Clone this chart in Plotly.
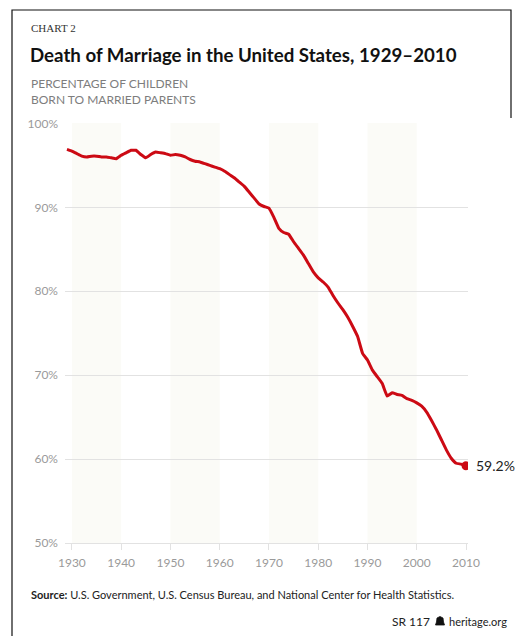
import plotly.graph_objects as go

# Percentage of children born to married parents, 1929-2010
years = list(range(1929, 2011))
married_pct = [
    96.9, 96.7, 96.4, 96.1, 96.0, 96.1, 96.1, 96.0, 96.0, 95.9,  # 1929-1938
    95.8, 96.2, 96.5, 96.8, 96.8, 96.3, 95.9, 96.3, 96.6, 96.5,  # 1939-1948
    96.4, 96.2, 96.3, 96.2, 96.0, 95.7, 95.5, 95.4, 95.2, 95.0,  # 1949-1958
    94.8, 94.6, 94.3, 93.9, 93.5, 93.0, 92.5, 91.8, 91.1, 90.4,  # 1959-1968
    90.1, 89.9, 88.8, 87.5, 87.0, 86.8, 85.9, 85.1, 84.3, 83.3,  # 1969-1978
    82.3, 81.6, 81.1, 80.5, 79.5, 78.6, 77.8, 76.9, 75.8, 74.6,  # 1979-1988
    72.6, 71.8, 70.6, 69.8, 69.0, 67.5, 67.9, 67.7, 67.6, 67.2,  # 1989-1998
    67.0, 66.7, 66.3, 65.6, 64.6, 63.5, 62.3, 61.1, 60.1, 59.5,  # 1999-2008
    59.4, 59.2,                                                  # 2009-2010
]

decade_ticks = [1930, 1940, 1950, 1960, 1970, 1980, 1990, 2000, 2010]
pct_ticks = [50, 60, 70, 80, 90, 100]
pct_labels = ["50%", "60%", "70%", "80%", "90%", "100%"]
shaded_decades = [(1930, 1940), (1950, 1960), (1970, 1980), (1990, 2000)]

W, H = 527, 636
L, R, T, B = 65, 59, 123, 93
PW, PH = W - L - R, H - T - B


def px(x):
    return (x - L) / PW


def py(y):
    return (H - B - y) / PH


RED = "#cc0a14"
GREY_TXT = "#9a9a9a"
GRID = "#e2e2e2"

fig = go.Figure()

fig.add_trace(go.Scatter(
    x=years, y=married_pct, mode="lines",
    line=dict(color=RED, width=3, shape="spline", smoothing=0.3),
    hoverinfo="skip", showlegend=False,
))
fig.add_trace(go.Scatter(
    x=[years[-1]], y=[married_pct[-1]], mode="markers",
    marker=dict(color=RED, size=9),
    hoverinfo="skip", showlegend=False,
))

shapes = []
for a, b in shaded_decades:
    shapes.append(dict(type="rect", xref="x", yref="paper", x0=a, x1=b, y0=0, y1=1,
                       fillcolor="#fbfbf7", line=dict(width=0), layer="below"))

# outer frame
shapes.append(dict(type="path", xref="paper", yref="paper",
                   path=f"M {px(12)} {py(636)} L {px(12)} {py(10)} L {px(511)} {py(10)} L {px(511)} {py(118)}",
                   line=dict(color="#111", width=1.2)))

# small bell logo next to the web address
bx, by = 440, 621
bell = (f"M {px(bx-4.5)} {py(by+4)} L {px(bx+4.5)} {py(by+4)} L {px(bx+3.5)} {py(by+1)} "
        f"L {px(bx+3)} {py(by-3)} L {px(bx)} {py(by-4.5)} L {px(bx-3)} {py(by-3)} "
        f"L {px(bx-3.5)} {py(by+1)} Z")
shapes.append(dict(type="path", xref="paper", yref="paper", path=bell,
                   fillcolor="#111", line=dict(color="#111", width=0.8)))

annotations = [
    dict(text="CHART 2", x=px(29), y=py(28), xanchor="left", yanchor="middle",
         font=dict(family="Liberation Serif", size=11, color="#333")),
    dict(text="<b>Death of Marriage in the United States, 1929–2010</b>",
         x=px(28), y=py(55), xanchor="left", yanchor="middle",
         font=dict(family="Lato", size=18.7, color="#111")),
    dict(text="PERCENTAGE OF CHILDREN<br>BORN TO MARRIED PARENTS",
         x=px(29), y=py(91), xanchor="left", yanchor="middle", align="left",
         font=dict(family="Lato", size=12, color="#7d7d7d")),
    dict(text=f"{married_pct[-1]:.1f}%", x=years[-1], y=married_pct[-1], xref="x", yref="y",
         xanchor="left", yanchor="middle", xshift=8,
         font=dict(family="Lato", size=14, color="#222")),
    dict(text="<b>Source:</b> U.S. Government, U.S. Census Bureau, and National Center for Health Statistics.",
         x=px(29), y=py(594), xanchor="left", yanchor="middle",
         font=dict(family="Lato", size=11, color="#222")),
    dict(text="SR 117", x=px(432), y=py(621), xanchor="right", yanchor="middle",
         font=dict(family="Lato", size=12, color="#222")),
    dict(text="heritage.org", x=px(509), y=py(621), xanchor="right", yanchor="middle",
         font=dict(family="Lato", size=11, color="#222")),
]
for a in annotations:
    a.setdefault("xref", "paper")
    a.setdefault("yref", "paper")
    a["showarrow"] = False

fig.update_layout(
    width=W, height=H,
    margin=dict(l=L, r=R, t=T, b=B),
    paper_bgcolor="white", plot_bgcolor="white",
    shapes=shapes, annotations=annotations,
    xaxis=dict(range=[1928.6, 2010.4], tickvals=decade_ticks, ticks="outside",
               ticklen=6, tickcolor=GRID, showgrid=False, zeroline=False,
               showline=True, linecolor=GRID, linewidth=1, ticklabelstandoff=3,
               tickfont=dict(family="Lato", size=12, color=GREY_TXT)),
    yaxis=dict(range=[50, 100.05], tickvals=pct_ticks, ticktext=pct_labels,
               showgrid=True, gridcolor=GRID, gridwidth=1, zeroline=False,
               ticks="", ticklabelstandoff=6,
               tickfont=dict(family="Lato", size=12, color=GREY_TXT)),
)

fig.write_html("out.html")
